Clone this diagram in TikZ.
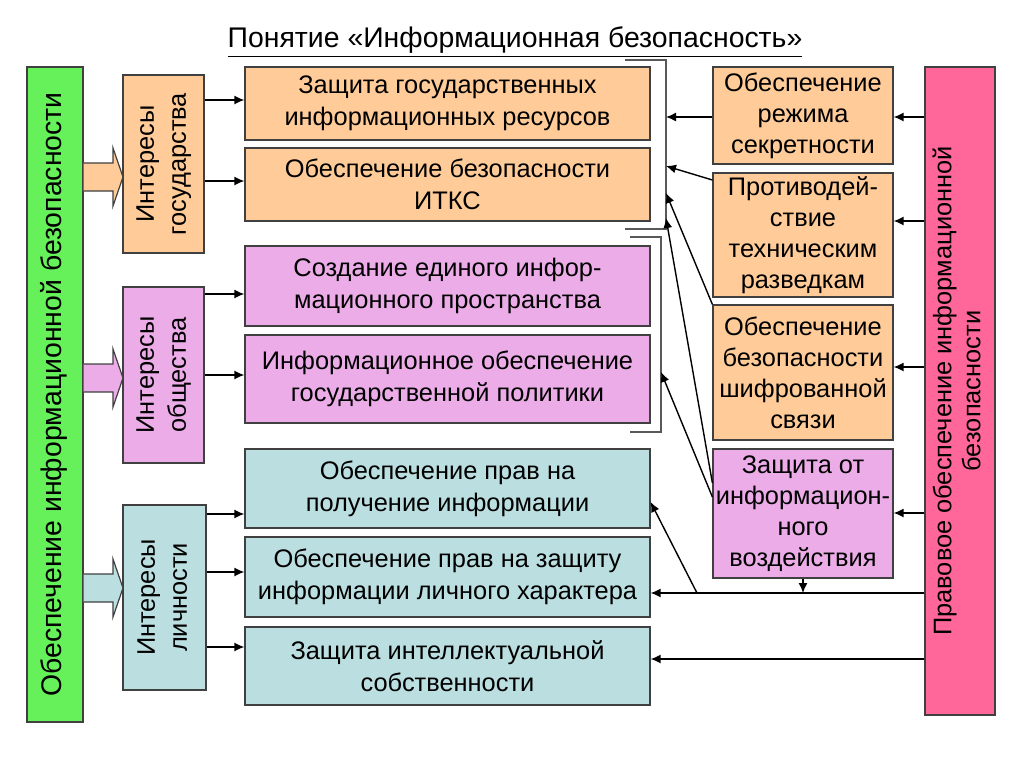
\documentclass[tikz,border=0pt]{standalone}
\usepackage{fontspec}
\usepackage{graphicx}
\setmainfont{Liberation Sans}
\usetikzlibrary{arrows.meta,positioning,calc}
\definecolor{stateorange}{RGB}{255,204,153}
\definecolor{socviolet}{RGB}{235,172,232}
\definecolor{perscyan}{RGB}{187,222,224}
\definecolor{safegreen}{RGB}{102,240,90}
\definecolor{lawpink}{RGB}{255,102,153}
\newcommand{\boxfont}{\fontsize{12.7}{16}\selectfont}
\newcommand{\vtext}[1]{\rotatebox{90}{\begin{tabular}{@{}c@{}}#1\end{tabular}}}
\tikzset{
	block/.style={
		rectangle,
		draw=black!75,
		line width=0.6pt,
		inner sep=1pt,
		align=center,
		font=\boxfont,
	},
	midbox/.style={
		block,
		minimum width=202.5pt,
	},
	sidebox/.style={
		block,
		minimum width=90pt,
		font=\fontsize{12.7}{15.5}\selectfont,
	},
	intbox/.style={
		block,
		minimum width=40.5pt,
	},
	link/.style={
		-{Latex[length=5pt,width=4.5pt]},
		line width=0.7pt,
	},
	brace/.style={
		draw=black!65,
		line width=0.6pt,
	},
}

\begin{document}
\begin{tikzpicture}[x=0.5pt,y=-0.5pt]
\useasboundingbox (0,0) rectangle (1024,767);

\node[font=\fontsize{14.2}{17}\selectfont] (title) at (515,42) {\underline{Понятие «Информационная безопасность»}};

% left column
\node[block,fill=safegreen,minimum width=28pt,minimum height=327.5pt,font=\fontsize{14.2}{17}\selectfont] (sec) at (55,394.5) {\vtext{Обеспечение информационной безопасности}};

\node[intbox,fill=stateorange,minimum height=89pt] (st) at (163.5,164) {\vtext{Интересы\\государства}};
\node[intbox,fill=socviolet,minimum height=88pt] (so) at (163.5,375) {\vtext{Интересы\\общества}};
\node[intbox,fill=perscyan,minimum width=41.5pt,minimum height=92.5pt] (pe) at (164.5,597.5) {\vtext{Интересы\\личности}};

\foreach \y/\c in {177/stateorange,378/socviolet,588/perscyan}
  \draw[black!75,line width=0.6pt,fill=\c] (sec.east |- 0,\y-14) -- (113,\y-14) -- (113,\y-29) -- (123,\y) -- (113,\y+29) -- (113,\y+14) -- (sec.east |- 0,\y+14);

% middle column
\node[midbox,fill=stateorange,minimum height=36.5pt] (m1) at (447.5,103.5) {Защита государственных\\информационных ресурсов};
\node[midbox,fill=stateorange,minimum height=36.5pt] (m2) at (447.5,184.5) {Обеспечение безопасности\\ИТКС};
\node[midbox,fill=socviolet,minimum height=40pt] (m3) at (447.5,286) {Создание единого инфор-\\мационного пространства};
\node[midbox,fill=socviolet,minimum height=44pt] (m4) at (447.5,379) {Информационное обеспечение\\государственной политики};
\node[midbox,fill=perscyan,minimum height=39.5pt] (m5) at (447.5,488.5) {Обеспечение прав на\\получение информации};
\node[midbox,fill=perscyan,minimum height=40pt] (m6) at (447.5,577) {Обеспечение прав на защиту\\информации личного характера};
\node[midbox,fill=perscyan,minimum height=39pt] (m7) at (447.5,666) {Защита интеллектуальной\\собственности};

\foreach \a/\b/\y in {st/m1/100,st/m2/181,so/m3/294,so/m4/375,pe/m5/514,pe/m6/572,pe/m7/647}
  \draw[link] (\a.east |- 0,\y) -- (\b.west |- 0,\y);

% right column
\node[sidebox,fill=stateorange,minimum height=48.5pt] (r1) at (803,115.5) {Обеспечение\\режима\\секретности};
\node[sidebox,fill=stateorange,minimum height=62pt] (r2) at (803,235) {Противодей-\\ствие\\техническим\\разведкам};
\node[sidebox,fill=stateorange,minimum height=67.5pt] (r3) at (803,372.5) {Обеспечение\\безопасности\\шифрованной\\связи};
\node[sidebox,fill=socviolet,minimum height=64.5pt] (r4) at (803,513.5) {Защита от\\информацион-\\ного\\воздействия};

\node[block,fill=lawpink,minimum width=35pt,minimum height=324pt,font=\fontsize{12.7}{14.5}\selectfont] (pk) at (960,391) {\vtext{Правовое обеспечение информационной\\безопасности}};

\foreach \n/\y in {r1/117,r2/221,r3/367,r4/513}
  \draw[link] (pk.west |- 0,\y) -- (\n.east |- 0,\y);

% brackets
\coordinate (br1) at (666,60);
\coordinate (br2) at (661,237);
\draw[brace] (625,60) -- (br1) -- (666,229) -- (625,229);
\draw[brace] (630,237) -- (br2) -- (661,432) -- (630,432);

\draw[link] (r1.west |- 0,117) -- (br1 |- 0,117);
\draw[link] (r2.west |- 0,180) -- (br1 |- 0,166);
\draw[link] (r3.north west) -- (br1 |- 0,193);
\draw[link] (r4.west |- 0,483) -- (br1 |- 0,218);
\draw[link] (r4.west |- 0,497) -- (br2 |- 0,372);

% law to personal boxes
\coordinate (jd) at (697,593);
\draw[link] (pk.west |- jd) -- (m6.east |- jd);
\draw[link] (pk.west |- 0,659) -- (m7.east |- 0,659);
\draw[link] (r4.south) -- (r4.south |- jd);
\draw[link] (jd) -- (m5.east |- 0,502);

\end{tikzpicture}
\end{document}
